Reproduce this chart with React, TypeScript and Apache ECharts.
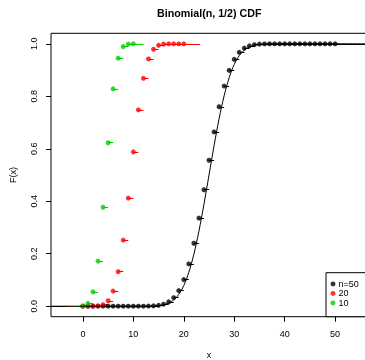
import React, { useEffect, useRef } from "react";
import * as echarts from "echarts";

// Binomial CDF values F(k) for k = 0..n
const binom10 = [0.000977, 0.010742, 0.054688, 0.171875, 0.376953, 0.623047, 0.828125, 0.945313, 0.989258, 0.999023, 1];
const binom20 = [
  0.000001, 0.00002, 0.000201, 0.001288, 0.005909, 0.020695, 0.057659, 0.131588, 0.251722, 0.411901, 0.588099,
  0.748278, 0.868412, 0.942341, 0.979305, 0.994091, 0.998712, 0.999799, 0.99998, 0.999999, 1,
];
const binom50 = [
  0, 0, 0, 0, 0, 0, 0, 0, 0, 0.000002, 0.000009, 0.000039, 0.000143, 0.000458, 0.0013, 0.0033, 0.007673, 0.016419,
  0.032454, 0.05946, 0.101319, 0.16113, 0.239944, 0.335878, 0.443862, 0.556138, 0.664122, 0.760056, 0.83887,
  0.898681, 0.94054, 0.967546, 0.983581, 0.992327, 0.9967, 0.998694, 0.999542, 0.999857, 0.999961, 0.999991,
  0.999998, 1, 1, 1, 1, 1, 1, 1, 1, 1, 1,
];
// step-function extents (left start, right end)
const extent10 = [-2, 12];
const extent20 = [-3.2, 23.2];
const extent50 = [-6.32, 56.32];

// smooth approximation curve (n = 50)
const curveX = [-6.32, 10, 12, 13, 14, 15, 16, 16.5, 17, 17.5, 18, 18.5, 19, 19.5, 20, 20.5, 21, 21.5, 22, 22.5, 23, 23.5, 24, 24.5, 25,
  25.5, 26, 26.5, 27, 27.5, 28, 28.5, 29, 29.5, 30, 30.5, 31, 31.5, 32, 32.5, 33, 33.5, 34, 35, 36, 37, 38, 40, 56.32];
const curveY = [0, 0.000004, 0.00012, 0.00034, 0.00093, 0.00234, 0.00545, 0.00811, 0.01183, 0.01695, 0.02386, 0.03301, 0.04484,
  0.05991, 0.07865, 0.1015, 0.129, 0.1611, 0.1981, 0.2398, 0.2858, 0.3357, 0.3886, 0.4438, 0.5, 0.5562, 0.6114, 0.6643,
  0.7142, 0.7602, 0.8019, 0.8389, 0.871, 0.8985, 0.92135, 0.94009, 0.95516, 0.96699, 0.97614, 0.98305, 0.98817, 0.99189,
  0.99455, 0.99766, 0.99907, 0.99966, 0.99988, 0.999996, 1];

const xTicks = [0, 10, 20, 30, 40, 50];
const yTicks = [0, 0.2, 0.4, 0.6, 0.8, 1.0];
const legendNames = ["n=50", "20", "10"];

const FONT = "'Liberation Sans', Arial, Helvetica, sans-serif";

function stepSegments(vals: number[], ext: number[]) {
  const segs: any[] = [];
  segs.push({ coords: [[ext[0], 0], [0, 0]] });
  vals.forEach((v, k) => {
    const end = k === vals.length - 1 ? ext[1] : k + 1;
    segs.push({ coords: [[k, v], [end, v]] });
  });
  return segs;
}

function groupSeries(name: string, vals: number[], ext: number[], color: string) {
  return [
    {
      type: "lines",
      coordinateSystem: "cartesian2d",
      polyline: false,
      silent: true,
      lineStyle: { color, width: 1, opacity: 1 },
      data: stepSegments(vals, ext),
    },
    {
      type: "scatter",
      name,
      symbol: "circle",
      symbolSize: 5,
      itemStyle: { color },
      data: vals.map((v, k) => [k, v]),
    },
  ];
}

export default function App() {
  const ref = useRef<HTMLDivElement>(null);
  useEffect(() => {
    document.body.style.overflow = "hidden";
    const chart = echarts.init(ref.current!, undefined, { renderer: "svg" });
    chart.setOption({
      animation: false,
      textStyle: { fontFamily: FONT, color: "#000" },
      title: {
        text: "Binomial(n, 1/2) CDF",
        left: 157,
        top: 7,
        padding: 0,
        textStyle: { fontFamily: FONT, fontSize: 10.7, fontWeight: "bold", color: "#000" },
      },
      grid: {
        left: 51,
        top: 33.3,
        width: 316,
        height: 283.4,
        containLabel: false,
        outerBoundsMode: "none",
        show: true,
        borderColor: "#000",
        borderWidth: 1,
        backgroundColor: "transparent",
      },
      xAxis: {
        type: "value",
        min: -6.32,
        max: 56.32,
        name: "x",
        nameLocation: "middle",
        nameGap: 33.5,
        nameTextStyle: { fontFamily: FONT, fontSize: 9, color: "#000" },
        axisLine: { show: false, onZero: false },
        splitLine: { show: false },
        axisTick: { show: true, length: 5, customValues: xTicks, lineStyle: { color: "#000" } },
        axisLabel: { customValues: xTicks, fontSize: 9, margin: 12.5, color: "#000", fontFamily: FONT },
      },
      yAxis: {
        type: "value",
        min: -0.04,
        max: 1.04,
        name: "F(x)",
        nameLocation: "middle",
        nameGap: 34,
        nameTextStyle: { fontFamily: FONT, fontSize: 9, color: "#000" },
        axisLine: { show: false, onZero: false },
        splitLine: { show: false },
        axisTick: { show: true, length: 5, customValues: yTicks, lineStyle: { color: "#000" } },
        axisLabel: {
          customValues: yTicks,
          rotate: 90,
          fontSize: 9,
          margin: 13,
          color: "#000",
          fontFamily: FONT,
          formatter: (v: number) => v.toFixed(1),
        },
      },
      legend: {
        orient: "vertical",
        left: 326,
        top: 272.7,
        data: legendNames,
        icon: "circle",
        itemWidth: 5,
        itemHeight: 5,
        itemGap: 0,
        padding: [6.5, 40, 9, 4.5],
        borderColor: "#000",
        borderWidth: 1,
        borderRadius: 0,
        backgroundColor: "#fff",
        selectedMode: false,
        textStyle: { fontFamily: FONT, fontSize: 9, color: "#000", lineHeight: 9.5, padding: [0, 0, 0, -2] },
      },
      series: [
        ...groupSeries("n=50", binom50, extent50, "#000000"),
        {
          type: "line",
          silent: true,
          showSymbol: false,
          smooth: 0.3,
          lineStyle: { color: "#000", width: 1 },
          data: curveX.map((x, i) => [x, curveY[i]]),
        },
        ...groupSeries("20", binom20, extent20, "#FF0000"),
        ...groupSeries("10", binom10, extent10, "#00CD00"),
      ],
    });
    return () => chart.dispose();
  }, []);
  return <div ref={ref} style={{ position: "fixed", left: 0, top: 0, width: 420, height: 360 }} />;
}
